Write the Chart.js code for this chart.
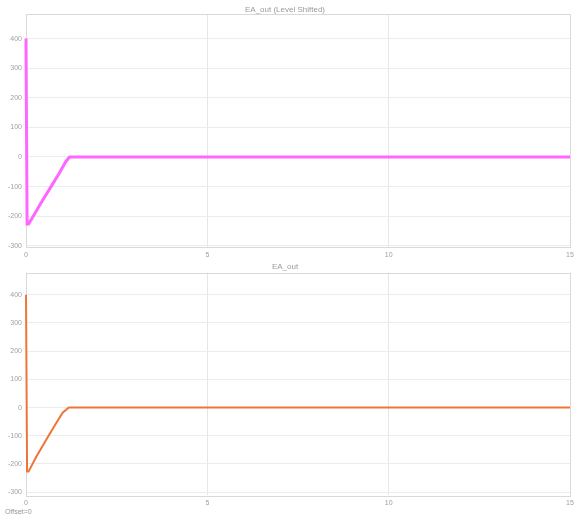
<!DOCTYPE html>
<html>
<head>
<meta charset="utf-8">
<script src="https://cdn.jsdelivr.net/npm/chart.js@4.4.1/dist/chart.umd.min.js"></script>
<style>
  html, body { margin: 0; padding: 0; background: #fff; width: 574px; height: 519px; overflow: hidden; }
  #c1 { position: absolute; left: 0; top: 0; }
  #c2 { position: absolute; left: 0; top: 260px; }
  #offset { position: absolute; left: 5px; top: 508px; font: 7px "Liberation Sans", Arial, sans-serif; color: #9a9a9a; }
</style>
</head>
<body>
<canvas id="c1" width="574" height="260"></canvas>
<canvas id="c2" width="574" height="248"></canvas>
<div id="offset">Offset=0</div>
<script>
// ---- data ----
const topTitle = "EA_out (Level Shifted)";
const bottomTitle = "EA_out";
const topTime = [0, 0.03, 0.07, 0.2, 0.4, 0.66, 0.9, 1.1, 1.2, 15];
const topValues = [400, -226, -226, -200, -158, -106, -58, -15, 0, 0];
const bottomTime = [0, 0.03, 0.07, 0.28, 0.55, 0.8, 1.01, 1.18, 15];
const bottomValues = [400, -227, -227, -175, -116, -62, -18, 0, 0];
const xTicks = [0, 5, 10, 15];
const yTicks = [-300, -200, -100, 0, 100, 200, 300, 400];

const FONT = "'Liberation Sans', Arial, sans-serif";
const TXT = '#a0a0a0';

const frame = {
  id: 'frame',
  beforeDatasetsDraw(chart) {
    const a = chart.chartArea, ctx = chart.ctx;
    ctx.save();
    ctx.strokeStyle = '#d9d9d9';
    ctx.lineWidth = 1;
    ctx.strokeRect(Math.round(a.left) + 0.5, Math.round(a.top) + 0.5, Math.round(a.right - a.left), Math.round(a.bottom - a.top));
    ctx.restore();
  }
};

function makeChart(id, title, xs, ys, color, lw, ymin, ymax, titlePad) {
  const pts = xs.map((x, i) => ({ x: x, y: ys[i] }));
  return new Chart(document.getElementById(id), {
    type: 'line',
    data: { datasets: [{ data: pts, borderColor: color, borderWidth: lw, pointRadius: 0, tension: 0, fill: false, clip: 4 }] },
    options: {
      responsive: false,
      animation: false,
      layout: { padding: { left: 0, right: 4, top: 0, bottom: 0 } },
      plugins: {
        legend: { display: false },
        tooltip: { enabled: false },
        title: { display: true, text: title, color: '#9a9a9a', font: { family: FONT, size: 8, weight: 'normal', lineHeight: '9px' }, padding: titlePad }
      },
      scales: {
        x: {
          type: 'linear', min: 0, max: 15,
          afterBuildTicks: s => { s.ticks = xTicks.map(v => ({ value: v })); },
          afterFit: s => { s.height = 13; s.paddingLeft = 0; s.paddingRight = 0; },
          grid: { color: '#e6e6e6', drawTicks: false },
          border: { display: false },
          ticks: { color: TXT, font: { family: FONT, size: 7 }, padding: 4, maxRotation: 0 }
        },
        y: {
          type: 'linear', min: ymin, max: ymax,
          afterBuildTicks: s => { s.ticks = yTicks.map(v => ({ value: v })); },
          afterFit: s => { s.width = 26; s.paddingTop = 0; s.paddingBottom = 0; },
          grid: { color: '#ececec', drawTicks: false },
          border: { display: false },
          ticks: { color: TXT, font: { family: FONT, size: 7 }, padding: 4 }
        }
      }
    },
    plugins: [frame]
  });
}

makeChart('c1', topTitle, topTime, topValues, '#ff66ff', 3, -304, 483, { top: 5, bottom: 0 });
makeChart('c2', bottomTitle, bottomTime, bottomValues, '#ee7437', 2, -310, 479, { top: 2, bottom: 1.5 });
</script>
</body>
</html>
